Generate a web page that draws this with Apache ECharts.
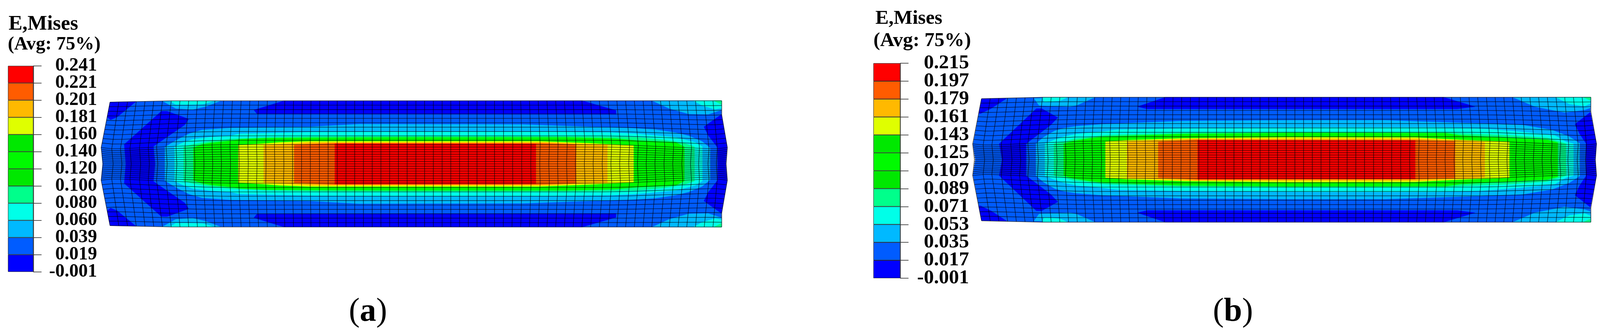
<!DOCTYPE html>
<html>
<head>
<meta charset="utf-8">
<title>E,Mises contours</title>
<script src="https://cdn.jsdelivr.net/npm/echarts@6/dist/echarts.min.js"></script>
<style>
  html, body { margin: 0; padding: 0; background: #fff; }
  #main { width: 4111px; height: 856px; }
</style>
</head>
<body>
<div id="main"></div>
<script>
// legend
const contourColors = ["#0000FF", "#005CFF", "#00B9FF", "#00FFE8", "#00FF8B", "#00E800", "#00FA00", "#00E800", "#DFFF00", "#FFB900", "#FF5C00", "#FF0000"];
const tickLabelsA = ["-0.001", "0.019", "0.039", "0.060", "0.080", "0.100", "0.120", "0.140", "0.160", "0.181", "0.201", "0.221", "0.241"];
const tickLabelsB = ["-0.001", "0.017", "0.035", "0.053", "0.071", "0.089", "0.107", "0.125", "0.143", "0.161", "0.179", "0.197", "0.215"];
const legendBandSizes = [1, 1, 1, 1, 1, 1, 1, 1, 1, 1, 1, 1];

// contour bands of panel a, read as [position along beam, distance from centre line]
const beamOutlineA = [[262.7, 0], [259, 42], [281.7, 158.3], [435, 161], [1847.3, 162], [1847, 127], [1861.7, 43], [1858, 0]];
const blueStripA = [[726, 161.5], [650, 138], [658, 128], [1577, 127], [1577, 137], [1491, 161.8]];
const blueCornerA = [[281.7, 158.3], [348, 159.6], [300, 120], [283, 113], [274.5, 120]];
const blueChevronA = [[322, 0], [318, 50], [413, 135], [428, 135], [483, 115], [473, 100], [393, 45], [397, 0]];
const blueEndA = [[1837, 0], [1837, 42], [1813, 73], [1802, 95], [1847, 127], [1861.7, 43], [1858, 0]];
const skyBlobLeftA = [[417, 160.5], [450, 142], [493, 139], [527, 147], [565, 161.5]];
const cyanBlobLeftA = [[435, 161], [450, 152], [483, 152], [520, 153], [547, 161.3]];
const skyBlobRightA = [[1670, 161.8], [1713, 142], [1763, 128], [1813, 127], [1847, 138], [1847.3, 162]];
const cyanBlobRightA = [[1775, 162], [1797, 150], [1830, 140], [1847, 143], [1847.3, 162]];
const greenCornerA = [[1827, 162], [1847, 152], [1847.3, 162]];
const skyCoreA = [[422, 0], [422, 43], [450, 60], [483, 77], [517, 87], [587, 92], [793, 95], [920, 102], [1338, 101], [1510, 95], [1610, 92], [1677, 88], [1730, 80], [1763, 72], [1797, 58], [1818, 41], [1818, 0]];
const cyanCoreA = [[447, 0], [447, 44], [470, 55], [493, 63], [533, 68], [590, 72], [613, 77], [793, 81], [1000, 82], [1400, 82], [1567, 80], [1630, 77], [1730, 68], [1780, 55], [1798, 44], [1798, 0]];
const mintCoreA = [[470, 0], [470, 44], [497, 51], [533, 57], [590, 64], [680, 68], [793, 70], [1000, 71], [1400, 71], [1543, 70], [1630, 68], [1697, 62], [1730, 57], [1752, 53], [1778, 44], [1778, 0]];
const greenCoreA = [[495, 0], [495, 42], [517, 50], [540, 54], [597, 60], [613, 63], [680, 66], [793, 67], [1000, 68], [1450, 68], [1574, 65], [1630, 60], [1697, 57], [1730, 55], [1752, 44], [1752, 0]];
const yellowCoreA = [[610, 0], [610, 48], [675, 52], [713, 55], [793, 58], [1380, 58], [1510, 53], [1622, 47], [1622, 0]];
const amberCoreA = [[675, 0], [675, 48], [747, 52], [793, 55], [1400, 55], [1446, 53], [1555, 48], [1555, 0]];
const orangeCoreA = [[753, 0], [753, 49], [857, 53], [1372, 53], [1475, 50], [1475, 0]];
const redCoreA = [[857, 0], [857, 51.7], [1372, 51], [1372, 0]];

// contour bands of panel b
const beamOutlineB = [[2496.7, 0], [2490.7, 39.3], [2512.7, 156], [2668, 160], [4072.6, 160], [4071.5, 122], [4087, 41], [4084, 0]];
const blueStripB = [[2983, 160], [2912, 136], [2937, 130], [3730, 130], [3776, 136], [3696, 160]];
const blueCornerB = [[2512.7, 156], [2577, 157], [2537, 131], [2510, 118], [2505.5, 118]];
const blueChevronB = [[2565, 0], [2558, 41], [2653, 131], [2667, 131], [2708, 108], [2690, 89], [2627, 41], [2627, 0]];
const blueEndB = [[4060, 0], [4060, 42], [4044, 66], [4032, 91], [4071.5, 122], [4087, 41], [4084, 0]];
const skyBlobLeftB = [[2647, 157], [2660, 139], [2690, 137.6], [2740, 136], [2757, 139.6], [2803, 160]];
const cyanBlobLeftB = [[2668, 159.5], [2673, 148], [2690, 149], [2713, 151], [2733, 160]];
const skyBlobRightB = [[3873, 160], [3929, 136], [4005, 121], [4057, 127.6], [4071, 132.6], [4072.6, 160]];
const cyanBlobRightB = [[3983, 160], [4018, 142.6], [4057, 137.6], [4071, 144], [4072.6, 160]];
const greenCornerB = [[4053, 160], [4071, 152], [4072.6, 160]];
const skyCoreB = [[2652, 0], [2652, 41], [2672, 58], [2700, 74], [2723, 81], [2757, 86], [2823, 91], [3023, 99], [3300, 101], [3546, 101], [3642, 97.6], [3801, 92.6], [3897, 89], [3974, 76], [4018, 59], [4044, 42], [4044, 0]];
const cyanCoreB = [[2675, 0], [2675, 41], [2697, 50], [2723, 59], [2757, 66], [2823, 72], [2863, 77], [3023, 80], [3400, 82.6], [3674, 82.6], [3801, 79], [3897, 71], [3980, 62.6], [4009, 46], [4028, 41], [4028, 0]];
const mintCoreB = [[2698, 0], [2698, 41], [2723, 46], [2747, 53], [2790, 58], [2830, 63], [3023, 69], [3300, 71], [3700, 71], [3738, 67.6], [3865, 62.6], [3961, 56], [3993, 46], [4009, 41], [4009, 0]];
const greenCoreB = [[2723, 0], [2723, 41], [2747, 48], [2790, 55], [2830, 59], [3023, 66], [3300, 68.5], [3700, 68], [3738, 62.6], [3865, 56], [3961, 51], [3988, 44], [3988, 0]];
const yellowCoreB = [[2830, 0], [2830, 46], [2885, 50], [2963, 52.6], [3030, 55], [3300, 57.6], [3623, 57], [3738, 51], [3864, 46], [3864, 0]];
const amberCoreB = [[2885, 0], [2885, 46], [2963, 50], [3066, 54], [3623, 54], [3725, 50], [3801, 45], [3801, 0]];
const orangeCoreB = [[2965, 0], [2965, 46], [3066, 51], [3623, 50], [3725, 47], [3725, 0]];
const redCoreB = [[3066, 0], [3066, 50], [3623, 49.6], [3623, 0]];

// element mesh: column stations from the first column, row levels from the centre line
const meshColumns = [0, 22.4, 44.7, 67.1, 89.5, 111.9, 134.2, 156.6, 179, 201.3, 223.7, 246.1, 268.4, 290.8, 313.2, 335.6, 357.9, 380.3, 402.7, 425, 447.4, 469.8, 492.1, 514.5, 536.9, 559.3, 581.6, 604, 626.4, 648.7, 671.1, 693.5, 715.8, 738.2, 760.6, 783, 805.3, 827.7, 850.1, 872.4, 894.8, 917.2, 939.5, 961.9, 984.3, 1006.7, 1029, 1051.4, 1073.8, 1096.1, 1118.5, 1140.9, 1163.2, 1185.6, 1208, 1230.4, 1252.7, 1275.1, 1297.5, 1319.8, 1342.2, 1364.6, 1386.9, 1409.3, 1431.7, 1454.1, 1476.4, 1498.8, 1521.2, 1543.5, 1565.9];
const meshRows = [161.5, 150.3, 139, 127.8, 116.6, 105.4, 94.1, 82.9, 71.7, 60.5, 49.3, 43.1, 37, 30.8, 24.7, 18.5, 12.3, 6.2, 0, -6.2, -12.3, -18.5, -24.7, -30.8, -37, -43.1, -49.3, -60.5, -71.7, -82.9, -94.1, -105.4, -116.6, -127.8, -139, -150.3, -161.5];
const meshInnerByEnd = [41.7, 39, 39, 40, 41, 42, 43, 44, 45, 46, 47, 48, 48.5, 49, 49.3];
const meshTopDropLeft = [3.5, 3, 2.5, 2, 1.5, 1, 0.5];
const meshBowLeft = [-22.7, -18, -18, -16, -14, -14, -15, -13, -10, -9, -8, -7, -7, -7, -6, -6, -5, -5, -4, -4, -3, -3, -2, -2, -1, -1];
const meshBowRight = [14.4, 11, 12, 10, 12, 12, 11, 11, 10, 10, 10, 10, 9, 9, 9, 8, 8, 7, 7, 6, 6, 5, 4, 3, 2, 1];

function layersFor(s) {
  // [colour level, polygon, "core" = upper half mirrored, "pair" = polygon and its mirror]
  return [
    [1, s.outline, "core"],
    [0, s.strip, "pair"], [0, s.corner, "pair"], [0, s.chevron, "core"], [0, s.end, "core"],
    [2, s.skyL, "pair"], [3, s.cyanL, "pair"], [2, s.skyR, "pair"], [3, s.cyanR, "pair"], [4, s.greenC, "pair"],
    [2, s.sky, "core"], [3, s.cyan, "core"], [4, s.mint, "core"], [6, s.green, "core"],
    [8, s.yellow, "core"], [9, s.amber, "core"], [10, s.orange, "core"], [11, s.red, "core"]
  ];
}

const layersA = layersFor({
  outline: beamOutlineA, strip: blueStripA, corner: blueCornerA, chevron: blueChevronA, end: blueEndA,
  skyL: skyBlobLeftA, cyanL: cyanBlobLeftA, skyR: skyBlobRightA, cyanR: cyanBlobRightA, greenC: greenCornerA,
  sky: skyCoreA, cyan: cyanCoreA, mint: mintCoreA, green: greenCoreA,
  yellow: yellowCoreA, amber: amberCoreA, orange: orangeCoreA, red: redCoreA
});
const layersB = layersFor({
  outline: beamOutlineB, strip: blueStripB, corner: blueCornerB, chevron: blueChevronB, end: blueEndB,
  skyL: skyBlobLeftB, cyanL: cyanBlobLeftB, skyR: skyBlobRightB, cyanR: cyanBlobRightB, greenC: greenCornerB,
  sky: skyCoreB, cyan: cyanCoreB, mint: mintCoreB, green: greenCoreB,
  yellow: yellowCoreB, amber: amberCoreB, orange: orangeCoreB, red: redCoreB
});

const mirrored = (pts) => pts.map((p) => [p[0], -p[1]]);

function expandLayers(layers) {
  const out = [];
  layers.forEach(([level, pts, kind]) => {
    if (kind === "core") {
      out.push({ level, pts: pts.concat(mirrored(pts).reverse()) });
    } else {
      out.push({ level, pts });
      out.push({ level, pts: mirrored(pts) });
    }
  });
  return out;
}

// mesh node position for one panel
function meshNode(panel, c, r) {
  const last = meshColumns.length - 1;
  const fromEnd = Math.min(c, last - c);
  const rowLevel = meshRows[r];
  const abs = Math.abs(rowLevel);
  const top = panel.top - (c < meshTopDropLeft.length ? meshTopDropLeft[c] : 0);
  const inner = (fromEnd < meshInnerByEnd.length ? meshInnerByEnd[fromEnd] : 49.3) * panel.innerScale;
  let dy;
  let reach;
  if (abs <= 49.3) {
    dy = inner * abs / 49.3;
    reach = 1 - 0.2 * (1 - abs / 49.3);
  } else {
    const t = (abs - 49.3) / (161.5 - 49.3);
    dy = inner + t * (top - inner);
    reach = 1 - t;
    if (c === last) reach = Math.min(1, Math.max(0, (reach - 0.3) / 0.7));
  }
  const bowTable = c <= last / 2 ? meshBowLeft : meshBowRight;
  const bowIndex = c <= last / 2 ? c : last - c;
  const bow = bowIndex < bowTable.length ? bowTable[bowIndex] : 0;
  return [panel.start + meshColumns[c] * panel.stretch + bow * reach, rowLevel < 0 ? -dy : dy];
}

function meshLines(panel) {
  const lines = [];
  meshColumns.forEach((_, c) => lines.push(meshRows.map((_, r) => meshNode(panel, c, r))));
  meshRows.forEach((_, r) => lines.push(meshColumns.map((_, c) => meshNode(panel, c, r))));
  return lines;
}

function contourSeries(index, polygons) {
  return {
    type: "custom", coordinateSystem: "cartesian2d", xAxisIndex: index, yAxisIndex: index,
    silent: true, clip: false, animation: false, z: 3,
    data: polygons.map((_, i) => [i]),
    encode: { x: -1, y: -1 },
    renderItem: (params, api) => {
      const poly = polygons[params.dataIndex];
      return {
        type: "polygon",
        shape: { points: poly.pts.map((p) => api.coord(p)) },
        style: { fill: contourColors[poly.level], stroke: contourColors[poly.level], lineWidth: 0.5 }
      };
    }
  };
}

function meshSeries(index, lines) {
  return {
    type: "custom", coordinateSystem: "cartesian2d", xAxisIndex: index, yAxisIndex: index,
    silent: true, clip: false, animation: false, z: 4,
    data: lines.map((_, i) => [i]),
    encode: { x: -1, y: -1 },
    renderItem: (params, api) => ({
      type: "polyline",
      shape: { points: lines[params.dataIndex].map((p) => api.coord(p)) },
      style: { fill: "none", stroke: "rgba(0,0,0,0.62)", lineWidth: 1.7 }
    })
  };
}

function legendSeries(index) {
  return legendBandSizes.map((size, i) => ({
    type: "bar", stack: "legend" + index, xAxisIndex: index, yAxisIndex: index,
    barWidth: "100%", animation: false, silent: true,
    itemStyle: { color: contourColors[i], borderColor: "#222", borderWidth: 1 },
    data: [size]
  }));
}

const serif = '"Liberation Serif", "Times New Roman", serif';
const labelStyle = (size) => ({ fontFamily: serif, fontWeight: "bold", fontSize: size, color: "#000" });

function title(text, left, top, size) {
  return { text, left, top, padding: 0, textStyle: labelStyle(size) };
}

function caption(letter, left) {
  return {
    text: "(" + "{b|" + letter + "}" + ")", left, top: 758, padding: 0,
    textStyle: {
      fontFamily: serif, fontWeight: "normal", fontSize: 84, color: "#000",
      rich: { b: { fontFamily: serif, fontWeight: "bold", fontSize: 84, color: "#000" } }
    }
  };
}

// ticks and bands of the colour bar
function legendAxis(gridIndex) {
  return {
    type: "value", gridIndex, min: 0, max: 12, interval: 1, position: "right",
    splitLine: { show: false },
    axisLine: { show: true, onZero: false, lineStyle: { color: "#222", width: 1.5 } },
    axisTick: { show: true, length: 21, lineStyle: { color: "#222", width: 1.5 } },
    axisLabel: { show: false }
  };
}

// tick texts sit on a category axis so that every one of them is kept
function legendLabelAxis(labels, gridIndex, margin, size, lift) {
  return {
    type: "category", gridIndex, data: labels, boundaryGap: false, position: "right",
    axisLine: { show: false }, axisTick: { show: false }, splitLine: { show: false },
    axisLabel: {
      interval: 0, margin, align: "right", padding: [0, 0, lift, 0],
      hideOverlap: false, ...labelStyle(size)
    }
  };
}

const hiddenX = (min, max, gridIndex) => ({ type: "value", gridIndex, min, max, show: false, splitLine: { show: false } });
const hiddenY = (gridIndex) => ({ type: "value", gridIndex, min: -190, max: 190, show: false, splitLine: { show: false } });
const hiddenCat = (gridIndex) => ({ type: "category", gridIndex, data: ["E,Mises"], show: false });

const myChart = echarts.init(document.getElementById("main"), null, { renderer: "canvas" });
myChart.setOption({
  animation: false,
  backgroundColor: "#fff",
  title: [
    title("E,Mises", 22, 36, 53),
    title("(Avg: 75%)", 20, 90, 48.5),
    title("E,Mises", 2241, 22, 51),
    title("(Avg: 75%)", 2236, 79, 51),
    caption("a", 893),
    caption("b", 3105)
  ],
  grid: [
    { left: 250, top: 230, width: 1630, height: 380 },
    { left: 2480, top: 219.3, width: 1620, height: 380 },
    { left: 20.4, top: 168.7, width: 65, height: 528 },
    { left: 2235.8, top: 162, width: 69, height: 551 }
  ],
  xAxis: [hiddenX(250, 1880, 0), hiddenX(2480, 4100, 1), hiddenCat(2), hiddenCat(3)],
  yAxis: [
    hiddenY(0), hiddenY(1), legendAxis(2), legendAxis(3),
    legendLabelAxis(tickLabelsA, 2, 163, 47.5, 4), legendLabelAxis(tickLabelsB, 3, 176, 51.5, 6)
  ],
  series: [
    contourSeries(0, expandLayers(layersA)),
    meshSeries(0, meshLines({ start: 281.7, stretch: 1, top: 161.7, innerScale: 1 })),
    contourSeries(1, expandLayers(layersB)),
    meshSeries(1, meshLines({ start: 2512.7, stretch: 0.99617, top: 160, innerScale: 0.97 })),
    ...legendSeries(2),
    ...legendSeries(3)
  ]
});
</script>
</body>
</html>
